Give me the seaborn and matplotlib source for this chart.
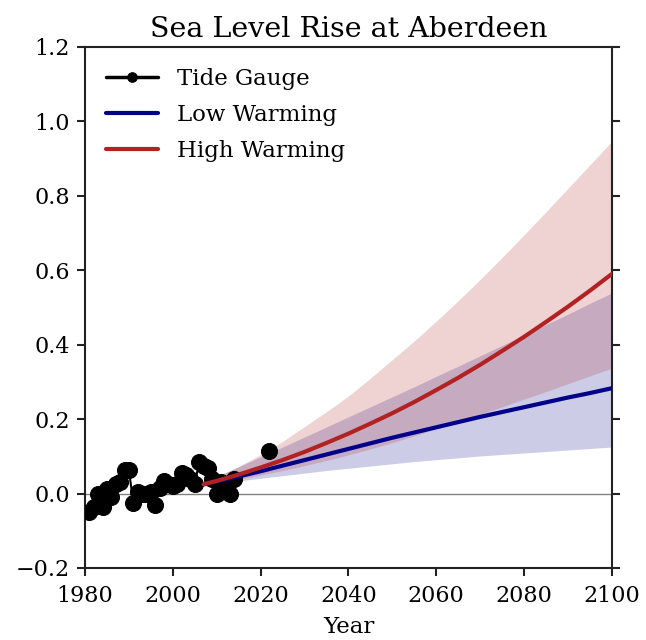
import numpy as np
import pandas as pd
import matplotlib
matplotlib.use("Agg")
import matplotlib.pyplot as plt
import seaborn as sns

# Annual mean sea level at the Aberdeen tide gauge (m, relative to baseline)
gauge_years = [1981, 1982, 1983, 1984, 1985, 1986, 1987, 1988, 1989, 1990,
               1991, 1992, 1993, 1994, 1995, 1996, 1997, 1998, 1999, 2000,
               2001, 2002, 2003, 2004, 2005, 2006, 2007, 2008, 2009, 2010,
               2011, 2012, 2013, 2014]
gauge_level = [-0.05, -0.035, 0.0, -0.035, 0.012, -0.01, 0.025, 0.03, 0.063, 0.063,
               -0.025, 0.005, 0.0, 0.0, 0.005, -0.03, 0.015, 0.035, 0.025, 0.02,
               0.025, 0.055, 0.05, 0.04, 0.025, 0.085, 0.075, 0.068, 0.04, 0.0,
               0.03, 0.015, 0.0, 0.04]
recent_years = [2022]
recent_level = [0.115]

# Projected sea level rise (m): median and likely range
proj_years = [2007, 2010, 2015, 2020, 2025, 2030, 2035, 2040, 2045, 2050,
              2055, 2060, 2065, 2070, 2075, 2080, 2085, 2090, 2095, 2100]
low_median = [0.025, 0.033, 0.046, 0.06, 0.075, 0.09, 0.105, 0.12, 0.135, 0.15,
              0.164, 0.178, 0.192, 0.206, 0.219, 0.232, 0.245, 0.258, 0.27, 0.283]
low_lower = [0.02, 0.026, 0.034, 0.041, 0.048, 0.055, 0.062, 0.068, 0.074, 0.08,
             0.086, 0.091, 0.096, 0.101, 0.105, 0.109, 0.113, 0.117, 0.121, 0.125]
low_upper = [0.03, 0.046, 0.072, 0.099, 0.125, 0.152, 0.179, 0.206, 0.233, 0.26,
             0.287, 0.315, 0.342, 0.37, 0.398, 0.426, 0.454, 0.482, 0.511, 0.539]
high_median = [0.025, 0.034, 0.051, 0.07, 0.09, 0.112, 0.136, 0.161, 0.188, 0.216,
               0.246, 0.278, 0.311, 0.346, 0.383, 0.421, 0.461, 0.502, 0.545, 0.59]
high_lower = [0.02, 0.027, 0.038, 0.05, 0.062, 0.075, 0.089, 0.104, 0.12, 0.137,
              0.155, 0.174, 0.193, 0.213, 0.233, 0.254, 0.274, 0.295, 0.316, 0.337]
high_upper = [0.03, 0.045, 0.073, 0.105, 0.14, 0.18, 0.22, 0.262, 0.31, 0.36,
              0.41, 0.463, 0.518, 0.575, 0.634, 0.695, 0.757, 0.82, 0.883, 0.946]

x_ticks = [1980, 2000, 2020, 2040, 2060, 2080, 2100]
y_ticks = [-0.2, 0.0, 0.2, 0.4, 0.6, 0.8, 1.0, 1.2]

sns.set_style("ticks")
plt.rcParams["font.family"] = ["DejaVu Serif"]
plt.rcParams["axes.linewidth"] = 1.5
plt.rcParams["text.color"] = "black"
plt.rcParams["axes.labelcolor"] = "black"
plt.rcParams["xtick.color"] = "black"
plt.rcParams["ytick.color"] = "black"

LOW_COLOR = "darkblue"
HIGH_COLOR = "firebrick"

fig = plt.figure(figsize=(6.46, 6.40), dpi=100)
ax = fig.add_axes([0.1316, 0.1125, 0.8154, 0.8141])

ax.axhline(0, color="gray", lw=1.0, zorder=0)

proj = pd.DataFrame({"year": proj_years,
                     "low": low_median, "high": high_median})

ax.fill_between(proj_years, low_lower, low_upper, color=LOW_COLOR,
                alpha=0.2, lw=0)
ax.fill_between(proj_years, high_lower, high_upper, color=HIGH_COLOR,
                alpha=0.2, lw=0)

gauge = pd.DataFrame({"year": gauge_years, "level": gauge_level})
recent = pd.DataFrame({"year": recent_years, "level": recent_level})

sns.lineplot(data=gauge, x="year", y="level", ax=ax, color="black",
             marker="o", markersize=11.5, markeredgecolor="black", lw=1.5,
             label="Tide Gauge", zorder=3)
sns.lineplot(data=recent, x="year", y="level", ax=ax, color="black",
             marker="o", markersize=11.5, markeredgecolor="black", lw=1.5,
             zorder=3)
sns.lineplot(data=proj, x="year", y="low", ax=ax, color=LOW_COLOR, lw=3,
             label="Low Warming", zorder=4)
sns.lineplot(data=proj, x="year", y="high", ax=ax, color=HIGH_COLOR, lw=3,
             label="High Warming", zorder=4)

ax.set_xlim(1980, 2100)
ax.set_ylim(-0.2, 1.2)
ax.set_xticks(x_ticks)
ax.set_yticks(y_ticks)
ax.set_yticklabels([f"{v:.1f}".replace("-", "\u2212") for v in y_ticks])
ax.tick_params(axis="both", labelsize=16, length=6, width=1.5,
               color="#222222")
ax.tick_params(axis="x", pad=6)
ax.tick_params(axis="y", right=True, pad=5)
for s in ax.spines.values():
    s.set_visible(True)
    s.set_color("#222222")

ax.set_xlabel("Year", fontsize=16.5, labelpad=7)
ax.set_ylabel("")
ax.set_title("Sea Level Rise at Aberdeen", fontsize=20.5, pad=7)

leg = ax.legend(loc="upper left", frameon=False, fontsize=16.5,
                handlelength=2.3, handletextpad=0.8, markerscale=0.6,
                borderaxespad=0.5, labelspacing=0.62)
for line in leg.get_lines()[:1]:
    line.set_linewidth(2.5)

fig.savefig("out.png", dpi=100)
